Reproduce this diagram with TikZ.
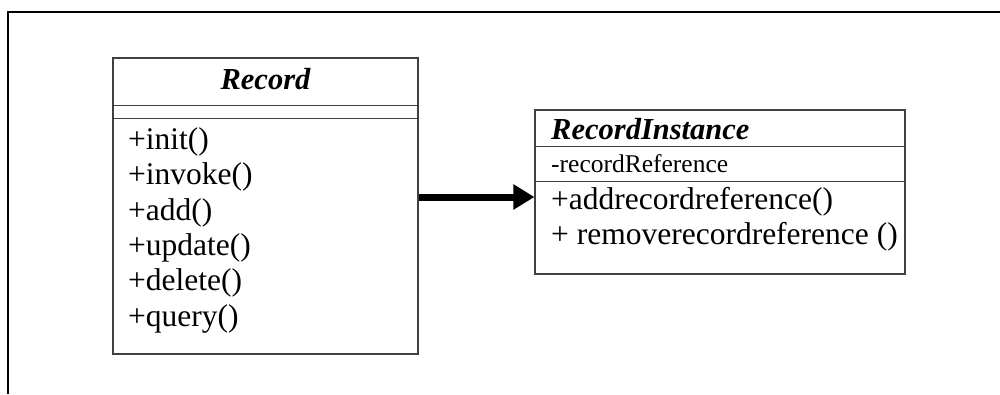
\documentclass[tikz,border=0pt]{standalone}
\usepackage{fontspec}
\setmainfont{Liberation Serif}
\usetikzlibrary{arrows.meta}

\tikzset{
  classbox/.style={draw=black!75, line width=1.1pt, rectangle, inner sep=0pt},
  divider/.style={draw=black!75, line width=1.1pt},
  title/.style={inner sep=0pt, font=\fontsize{30.5}{30}\selectfont\bfseries\itshape},
  member/.style={inner sep=0pt, anchor=base west, font=\fontsize{31.5}{30}\selectfont},
  attr/.style={inner sep=0pt, anchor=base west, font=\fontsize{25.5}{25}\selectfont},
  assoc/.style={line width=7pt, -{Triangle[length=21pt,width=24pt]}}
}

\begin{document}
\begin{tikzpicture}[x=1pt,y=-1pt]
\useasboundingbox (0,0) rectangle (1000,394);

% page frame (top and left edges)
\draw[line width=1.8pt] (1000,12) -- (8,12) -- (8,394);

% class Record
\node[classbox, minimum width=305pt, minimum height=296pt] (rec) at (265.5,206) {};
\draw[divider] (113,105.5) -- (418,105.5);
\draw[divider] (113,118.5) -- (418,118.5);
\node[title, anchor=base] (recname) at (265.5,89) {Record};
\node[member] (m1) at (128,149.5) {+init()};
\node[member] (m2) at (128,184.8) {+invoke()};
\node[member] (m3) at (128,220.1) {+add()};
\node[member] (m4) at (128,255.4) {+update()};
\node[member] (m5) at (128,290.7) {+delete()};
\node[member] (m6) at (128,326)   {+query()};

% class RecordInstance
\node[classbox, minimum width=370pt, minimum height=164pt] (inst) at (720,192) {};
\draw[divider] (535,146.5) -- (905,146.5);
\draw[divider] (535,181.5) -- (905,181.5);
\node[title, anchor=base west] (instname) at (551,139) {RecordInstance};
\node[attr] (a1) at (551,172) {-recordReference};
\node[member] (n1) at (551,209.5) {+addrecordreference()};
\node[member] (n2) at (551,244.5) {+ removerecordreference ()};

% association
\coordinate (ay) at (0,197);
\draw[assoc] (rec.east |- ay) -- (inst.west |- ay);
\end{tikzpicture}
\end{document}
